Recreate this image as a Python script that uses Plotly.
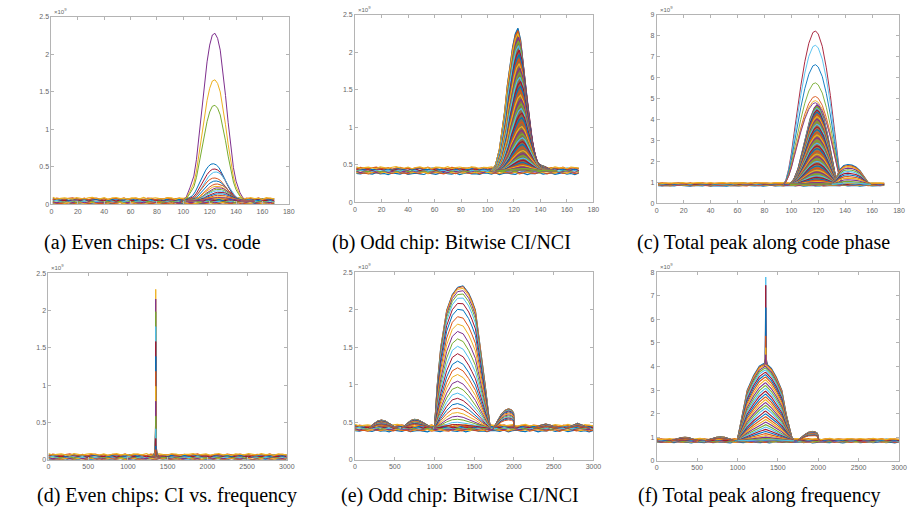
import numpy as np
import plotly.graph_objects as go

W, H = 909, 517
MC = ['#0072BD', '#D95319', '#EDB120', '#7E2F8E', '#77AC30', '#4DBEEE', '#A2142F']

# ---------------- data (values in units of 1e9) ----------------
ripple = [0.3, -0.5, 0.8, -0.2, 0.1, -0.9, 0.6, 0.2, -0.4, 0.9,
          -0.7, 0.0, 0.5, -0.3, -0.8, 0.7, 0.1, -0.6, 0.4, 0.9,
          -0.1, -0.5, 0.6, -0.9, 0.2, 0.8, -0.3, 0.0, -0.7, 0.5,
          0.3, -0.4, 0.9, -0.8, 0.1, 0.6, -0.2, -0.6, 0.7, 0.4,
          -0.9, 0.2, 0.0, 0.8, -0.5, -0.1, 0.6, -0.7, 0.3, 0.9,
          -0.4, 0.1, -0.8, 0.5, 0.2, -0.3, 0.7]
code_floor_x = list(range(1, 170, 3))
freq_floor_x = np.linspace(0, 3000, len(ripple))

floor_offsets = [-0.5, -0.38, -0.26, -0.14, -0.02, 0.1, 0.22, 0.34, 0.46, 0.55]

# (a) Even chips: CI vs code
a_base, a_spread, a_rip = 0.04, 0.07, 0.014
pa_x = [98, 102, 105, 108, 110, 112, 114, 116, 118, 120, 122, 124, 126, 128, 130, 132, 134, 136, 138, 140, 143, 146, 150]
pa_prof = [0, 0.02, 0.08, 0.15, 0.25, 0.4, 0.57, 0.71, 0.83, 0.93, 0.99, 1.0, 0.97, 0.9, 0.78, 0.63, 0.47, 0.32, 0.2, 0.12, 0.05, 0.01, 0]
pa_amp = [2.24, 1.62, 1.28, 0.5, 0.43, 0.39, 0.31, 0.27, 0.23, 0.2, 0.18, 0.16, 0.14, 0.12, 0.1, 0.08, 0.06, 0.05]
pa_shift = [0, 0, 0, -1, 0, 1, 0, 1, 2, 2, 3, 3, 3, 4, 4, 4, 4, 4]
pa_col = ['#7E2F8E', '#EDB120', '#77AC30', '#0072BD', '#A2142F', '#4DBEEE', '#D95319']

# (b) Odd chip: bitwise CI/NCI (code)
b_base, b_spread, b_rip = 0.42, 0.075, 0.015
pb_x = [103, 106, 109, 111, 113, 115, 117, 119, 121, 123, 125, 127, 129, 131, 133, 135, 137, 140, 143, 146, 148]
pb_prof = [0, 0.04, 0.15, 0.27, 0.42, 0.6, 0.75, 0.87, 0.96, 1.0, 0.92, 0.75, 0.55, 0.38, 0.24, 0.13, 0.06, 0.04, 0.03, 0.01, 0]
pb_amp = [1.9, 1.87, 1.83, 1.78, 1.73, 1.67, 1.61, 1.55, 1.49, 1.43, 1.37, 1.31, 1.25, 1.19, 1.13, 1.07,
          1.01, 0.95, 0.89, 0.83, 0.77, 0.71, 0.65, 0.59, 0.54, 0.49, 0.44, 0.39, 0.35, 0.31, 0.27, 0.23,
          0.2, 0.17, 0.14, 0.11, 0.09, 0.07, 0.05, 0.03]
pb_shift = [0, 0, 0, 0.5, 0.5, 0.5, 1, 1, 1, 1, 1.5, 1.5, 1.5, 2, 2, 2, 2, 2.5, 2.5, 2.5,
            3, 3, 3, 3, 3, 3.5, 3.5, 3.5, 3.5, 4, 4, 4, 4, 4, 4, 4, 4, 4, 4, 4]

# (c) Total peak along code phase
c_base, c_spread, c_rip = 0.9, 0.12, 0.025
pc_x = [94, 96, 98, 100, 102, 104, 107, 110, 113, 116, 118, 120, 123, 126, 129, 132, 134, 136, 138]
pc_prof = [0, 0.03, 0.1, 0.2, 0.33, 0.46, 0.64, 0.8, 0.92, 0.99, 1.0, 0.98, 0.9, 0.76, 0.58, 0.36, 0.2, 0.07, 0]
pc_top_amp = [7.33, 6.65, 5.72, 4.85, 4.2, 4.0, 3.9]
pc_top_col = ['#A2142F', '#4DBEEE', '#0072BD', '#77AC30', '#D95319', '#EDB120', '#7E2F8E']
pcm_x = [99, 102, 105, 108, 111, 114, 117, 119, 121, 124, 127, 130, 132, 134]
pcm_prof = [0, 0.07, 0.2, 0.4, 0.62, 0.83, 0.96, 1.0, 0.97, 0.84, 0.62, 0.36, 0.17, 0]
pc_mass_amp = [3.8, 3.72, 3.64, 3.55, 3.45, 3.35, 3.24, 3.12, 3.0, 2.88, 2.75, 2.62, 2.49, 2.36,
               2.23, 2.1, 1.97, 1.84, 1.71, 1.58, 1.45, 1.33, 1.21, 1.1, 0.99, 0.88, 0.78, 0.68,
               0.59, 0.5, 0.42, 0.34, 0.27, 0.2, 0.14, 0.09, 0.05]
pcb_x = [130, 133, 136, 139, 142, 145, 148, 151, 154, 157, 159]
pcb_prof = [0, 0.3, 0.75, 0.95, 1.0, 0.97, 0.88, 0.7, 0.4, 0.1, 0]
pcb_amp = [0.95, 0.9, 0.85, 0.78, 0.7, 0.62, 0.54, 0.46, 0.38, 0.3, 0.22, 0.15, 0.08]

# (d) Even chips: CI vs frequency
d_base, d_spread, d_rip = 0.035, 0.065, 0.014
pd_x = [1290, 1320, 1335, 1342, 1347, 1350, 1353, 1358, 1365, 1380, 1410]
pd_prof = [0, 0.01, 0.03, 0.06, 0.2, 1.0, 0.2, 0.06, 0.03, 0.01, 0]
pd_amp = [2.25, 2.12, 1.95, 1.75, 1.55, 1.35, 1.15, 0.95, 0.75, 0.55, 0.38, 0.25, 0.15, 0.1]

# (e) Odd chip: bitwise CI/NCI (frequency)
e_base, e_spread, e_rip = 0.42, 0.07, 0.015
pe_x = [1000, 1033, 1078, 1153, 1224, 1290, 1361, 1430, 1470, 1515, 1550, 1590, 1639, 1670, 1700]
pe_hi = [0.01, 0.3, 0.57, 0.83, 0.94, 0.99, 1.0, 0.95, 0.9, 0.83, 0.68, 0.52, 0.3, 0.15, 0.01]
pe_lo = [0, 0.15, 0.35, 0.7, 0.95, 1.0, 0.9, 0.72, 0.6, 0.47, 0.37, 0.26, 0.13, 0.05, 0]
pe_amp = [1.9, 1.89, 1.87, 1.84, 1.8, 1.75, 1.68, 1.6, 1.5, 1.4, 1.3, 1.2, 1.1, 1.0, 0.9, 0.81,
          0.72, 0.63, 0.55, 0.47, 0.4, 0.33, 0.27, 0.21, 0.16, 0.12, 0.08, 0.05]
e_lobes = [
    ([180, 230, 280, 330, 380, 430, 480, 530], [0, 0.03, 0.05, 0.058, 0.052, 0.035, 0.015, 0]),
    ([580, 640, 700, 750, 800, 860, 920, 980], [0, 0.03, 0.055, 0.063, 0.058, 0.04, 0.02, 0]),
    ([1740, 1770, 1800, 1840, 1880, 1930, 1970, 1995, 2000, 2010], [0, 0.03, 0.07, 0.1, 0.125, 0.137, 0.13, 0.11, 0.03, 0]),
    ([2250, 2330, 2400, 2470, 2550], [0, 0.02, 0.03, 0.02, 0]),
    ([2650, 2730, 2800, 2870, 2950], [0, 0.02, 0.035, 0.02, 0]),
]

# (f) Total peak along frequency
f_base, f_spread, f_rip = 0.85, 0.13, 0.03
pf_x = [1000, 1058, 1120, 1200, 1270, 1336, 1350, 1420, 1480, 1549, 1602, 1671, 1700]
pf_hi = [0.02, 0.35, 0.65, 0.84, 0.96, 1.0, 1.0, 0.93, 0.82, 0.65, 0.35, 0.05, 0]
pf_lo = [0, 0.17, 0.34, 0.57, 0.78, 0.97, 1.0, 0.8, 0.62, 0.42, 0.26, 0.06, 0]
pf_amp = [3.3, 3.26, 3.21, 3.15, 3.08, 3.0, 2.9, 2.8, 2.7, 2.58, 2.46, 2.34, 2.22, 2.1, 1.98,
          1.86, 1.74, 1.62, 1.5, 1.38, 1.26, 1.14, 1.02, 0.9, 0.79, 0.68, 0.58, 0.48, 0.39,
          0.3, 0.22, 0.15, 0.09, 0.05]
pf_spike_x = [1330, 1343, 1350, 1357, 1370]
pf_spike_prof = [0, 0.08, 1.0, 0.08, 0]
pf_spike_peak = [7.8, 7.45, 6.5, 5.3, 4.8, 4.5]
f_lobes = [
    ([180, 250, 300, 350, 400, 450, 520], [0, 0.025, 0.04, 0.045, 0.04, 0.02, 0]),
    ([600, 680, 740, 790, 840, 900, 960], [0, 0.03, 0.045, 0.05, 0.045, 0.025, 0]),
    ([1740, 1780, 1830, 1880, 1930, 1960, 1990, 2000, 2010], [0, 0.04, 0.08, 0.11, 0.12, 0.115, 0.1, 0.03, 0]),
]

captions = ["(a) Even chips: CI vs. code", "(b) Odd chip: Bitwise CI/NCI",
            "(c) Total peak along code phase", "(d) Even chips: CI vs. frequency",
            "(e) Odd chip: Bitwise CI/NCI", "(f) Total peak along frequency"]

# ---------------- layout geometry (pixels) ----------------
boxes = [(50, 290, 13, 203), (357, 598, 11, 201), (662, 907, 11, 202),
         (47, 288, 273, 462), (357, 598, 272, 462), (662, 907, 272, 463)]
cap_pos = [(40, 242), (332, 242), (640, 242), (33, 498), (341, 498), (641, 498)]
code_ticks = list(range(0, 181, 20))
freq_ticks = list(range(0, 3001, 500))
axes_spec = [((0, 180), code_ticks, (0, 2.5), [0, 0.5, 1, 1.5, 2, 2.5]),
             ((0, 180), code_ticks, (0, 2.5), [0, 0.5, 1, 1.5, 2, 2.5]),
             ((0, 180), code_ticks, (0, 9), list(range(0, 10))),
             ((0, 3000), freq_ticks, (0, 2.5), [0, 0.5, 1, 1.5, 2, 2.5]),
             ((0, 3000), freq_ticks, (0, 2.5), [0, 0.5, 1, 1.5, 2, 2.5]),
             ((0, 3000), freq_ticks, (0, 8), list(range(0, 9)))]

fig = go.Figure()


def axn(i):
    return ('x' if i == 0 else f'x{i+1}', 'y' if i == 0 else f'y{i+1}')


def line(i, x, y, color, width=1.0, **kw):
    xa, ya = axn(i)
    fig.add_trace(go.Scatter(x=list(x), y=list(y), mode='lines', xaxis=xa, yaxis=ya,
                             line=dict(color=color, width=width), showlegend=False,
                             hoverinfo='skip', **kw))


def floor(i, xs, base, spread, rip):
    r = np.array(ripple)
    for k, off in enumerate(floor_offsets):
        y = base + off * spread + rip * np.roll(r, 5 * k + 3)
        line(i, xs, y, MC[k % 7], 1.2)


# (a)
floor(0, code_floor_x, a_base, a_spread, a_rip)
for k, amp in enumerate(pa_amp):
    col = pa_col[k] if k < len(pa_col) else MC[k % 7]
    line(0, np.array(pa_x) + pa_shift[k], a_base + amp * np.array(pa_prof), col, 1.0)

# (b)
floor(1, code_floor_x, b_base, b_spread, b_rip)
line(1, pb_x, [b_base] * len(pb_x), 'rgba(0,0,0,0)', 0)
line(1, pb_x, b_base + pb_amp[0] * np.array(pb_prof), '#8a6e48', 0.5,
     fill='tonexty', fillcolor='#8a6e48')
for k, amp in enumerate(pb_amp):
    line(1, np.array(pb_x) + pb_shift[k], b_base + amp * np.array(pb_prof), MC[k % 7], 1.2)

# (c)
floor(2, code_floor_x, c_base, c_spread, c_rip)
for k, amp in enumerate(pc_top_amp):
    line(2, pc_x, c_base + amp * np.array(pc_prof), pc_top_col[k], 0.9)
line(2, pcm_x, [c_base] * len(pcm_x), 'rgba(0,0,0,0)', 0)
line(2, pcm_x, c_base + pc_mass_amp[0] * np.array(pcm_prof), '#a07848', 0.5,
     fill='tonexty', fillcolor='#a07848')
for k, amp in enumerate(pc_mass_amp):
    line(2, pcm_x, c_base + amp * np.array(pcm_prof), MC[(k + 3) % 7], 1.1)
for k, amp in enumerate(pcb_amp):
    line(2, pcb_x, c_base + amp * np.array(pcb_prof), MC[k % 7], 1.1)

# (d)
floor(3, freq_floor_x, d_base, d_spread, d_rip)
for k, amp in enumerate(pd_amp):
    line(3, pd_x, d_base + amp * np.array(pd_prof), MC[(k + 2) % 7], 1.0)

# (e)
floor(4, freq_floor_x, e_base, e_spread, e_rip)
amax = pe_amp[0]
for k, amp in enumerate(pe_amp):
    w = amp / amax
    prof = w * np.array(pe_hi) + (1 - w) * np.array(pe_lo)
    line(4, pe_x, e_base + amp * prof, MC[k % 7], 1.0)
    if k < 16:
        for lx, lp in e_lobes:
            line(4, lx, e_base + amp * np.array(lp), MC[k % 7], 1.0)

# (f)
floor(5, freq_floor_x, f_base, f_spread, f_rip)
amax = pf_amp[0]
for k, amp in enumerate(pf_amp):
    w = amp / amax
    prof = w * np.array(pf_hi) + (1 - w) * np.array(pf_lo)
    line(5, pf_x, f_base + amp * prof, MC[k % 7], 1.1)
    if k < 16:
        for lx, lp in f_lobes:
            line(5, lx, f_base + amp * np.array(lp), MC[k % 7], 1.0)
top_f = f_base + pf_amp[0]
for k, pk in enumerate(pf_spike_peak):
    line(5, pf_spike_x, top_f - 0.1 + (pk - top_f + 0.1) * np.array(pf_spike_prof), MC[(k + 5) % 7], 1.0)

# ---------------- axes ----------------
annotations = []
tickfont = dict(size=7, color='#666666', family='Arial')
for i, ((x0, x1, y0, y1), (xr, xt, yr, yt)) in enumerate(zip(boxes, axes_spec)):
    xa, ya = axn(i)
    xkey = 'xaxis' if i == 0 else f'xaxis{i+1}'
    ykey = 'yaxis' if i == 0 else f'yaxis{i+1}'
    common = dict(showline=True, mirror='allticks', linecolor='#b4b4b4', linewidth=1,
                  ticks='inside', ticklen=3, tickcolor='#b4b4b4', showgrid=False,
                  zeroline=False, tickfont=tickfont, fixedrange=True)
    fig.update_layout({
        xkey: dict(domain=[x0 / W, x1 / W], range=list(xr), tickvals=xt, anchor=ya, **common),
        ykey: dict(domain=[1 - y1 / H, 1 - y0 / H], range=list(yr), tickvals=yt, anchor=xa, **common),
    })
    annotations.append(dict(x=x0 / W + 1 / W, y=1 - y0 / H, xref='paper', yref='paper',
                            xanchor='left', yanchor='bottom', showarrow=False,
                            text='×10<sup>9</sup>', font=dict(size=6, color='#666666', family='Arial')))

for (cx, cy), txt in zip(cap_pos, captions):
    annotations.append(dict(x=cx / W, y=1 - cy / H, xref='paper', yref='paper',
                            xanchor='left', yanchor='middle', showarrow=False, text=txt,
                            font=dict(size=20, color='black',
                                      family='Times New Roman, Liberation Serif, serif')))

fig.update_layout(width=W, height=H, autosize=False, margin=dict(l=0, r=0, t=0, b=0),
                  paper_bgcolor='white', plot_bgcolor='white', annotations=annotations)

fig.write_html("out.html")
